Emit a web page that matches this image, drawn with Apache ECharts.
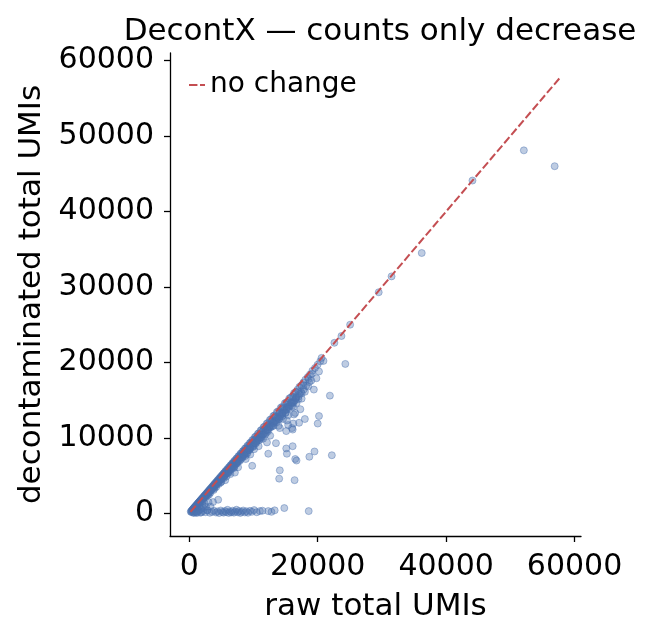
<!DOCTYPE html>
<html>
<head>
<meta charset="utf-8">
<script src="https://cdn.jsdelivr.net/npm/echarts@6/dist/echarts.min.js"></script>
<style>
  html, body { margin: 0; padding: 0; background: #fff; }
  #chart { width: 648px; height: 638px; }
</style>
</head>
<body>
<div id="chart"></div>
<script>
// cells lying on / just under the "no change" diagonal  [raw, decontaminated]
const diagonalCells = [
  [230,220],[310,290],[380,360],[450,400],[520,505],[570,530],[640,610],[700,690],[760,700],[830,810],
  [880,860],[950,900],[1010,990],[1070,1010],[1130,1100],[1190,1150],[1240,1210],[1310,1230],[1370,1350],
  [1420,1390],[1490,1400],[1550,1520],[1610,1570],[1660,1590],[1730,1700],[1790,1770],[1850,1740],
  [1920,1890],[1980,1930],[2040,1960],[2110,2080],[2170,2120],[2230,2110],[2300,2260],[2360,2330],
  [2420,2300],[2490,2450],[2550,2510],[2610,2470],[2690,2650],[2750,2700],[2820,2660],[2880,2840],
  [2950,2900],[3020,2870],[3090,3050],[3150,3110],[3220,3050],[3290,3250],[3360,3300],[3430,3260],
  [3500,3460],[3570,3510],[3640,3460],[3710,3670],[3790,3740],[3860,3680],[3930,3890],[4010,3950],
  [4090,3880],[4160,4120],[4240,4180],[4320,4100],[4400,4350],[4470,4410],[4550,4330],[4630,4580],
  [4710,4650],[4790,4560],[4870,4820],[4950,4890],[5030,4790],[5110,5060],[5200,5130],[5280,5030],
  [5360,5300],[5450,5380],[5530,5270],[5620,5560],[5700,5630],[5790,5520],[5880,5820],[5970,5890],
  [6060,5780],[6150,6090],[6250,6160],[6340,6050],[6430,6370],[6530,6440],[6620,6320],[6720,6650],
  [6820,6720],[6910,6600],[7010,6940],[7120,7010],[7220,6900],[7320,7240],[7430,7310],[7530,7200],
  [7640,7560],[7750,7620],[7860,7510],[7970,7890],[8080,7950],[8200,7840],[8310,8220],[8430,8290],
  [8550,8170],[8670,8580],[8790,8640],[8910,8510],[9040,8940],[9160,9000],[9290,8870],[9420,9310],
  [9550,9380],[9680,9240],[9810,9700],[9950,9770],[10080,9620],[10220,10110],[10360,10170],[10500,10010],
  [10650,10520],[10800,10600],[10950,10440],[11100,10970],[11250,11040],[11400,10870],[11560,11420],
  [11720,11490],[11880,11300],[12040,11880],[12210,11970],[12380,11760],[12550,12380],[12720,12460],
  [12900,12230],[13080,12890],[13260,12980],[13450,12740],[13640,13420],[13830,13510],[14030,13260],
  [14230,13980],[14440,14100],[14650,13820],[14870,14580],[15090,14700],[15320,14400],[15560,15220],
  [15800,15350],[16050,15480],[16310,15930],[16580,16090],[16860,16380],[17150,16760],[17450,16950],
  [17760,17330],[18090,17720],[18440,18050],[18800,18400],[19180,18900],[19570,19250],[19980,19700],
  [20400,20150]
];

// more of the band, filling it in
const bandFillCells = [
  [600,570],[900,840],[1150,1060],[1400,1330],[1650,1540],[1880,1790],[2140,1990],[2380,2260],
  [2640,2430],[2870,2730],[3130,2890],[3380,3210],[3620,3350],[3880,3680],[4130,3820],[4370,4150],
  [4620,4280],[4880,4630],[5140,4760],[5390,5120],[5650,5230],[5910,5610],[6170,5720],[6440,6120],
  [6700,6200],[6960,6610],[7230,6700],[7500,7120],[7770,7190],[8040,7640],[8320,7700],[8600,8170],
  [8880,8220],[9160,8700],[9450,8740],[9740,9250],[10030,9280],[10330,9810],[10630,9830],[10930,10380],
  [11230,10390],[11540,10960],[11850,10960],[12160,11550],[12480,11540],[12800,12160],[13120,12130],
  [13450,12780],[13780,12740],[14120,13410],[14460,13370],[14800,14060],[15150,14020],[15510,14730],
  [15870,14700],[16240,15430],[16620,15400],[17000,16150],[17400,16100],[17800,17000],[18200,16900],
  [18600,17800],[19000,17600]
];

// the thick part of the band, a few percent under the diagonal
const denseBandCells = [
  [2050,1880],[2330,2120],[2680,2450],[2970,2700],[3250,2980],[3480,3150],[3740,3420],[3990,3600],
  [4280,3920],[4520,4080],[4760,4380],[5050,4580],[5320,4880],[5580,5090],[5840,5350],[6090,5520],
  [6380,5860],[6640,6020],[6890,6330],[7180,6520],[7460,6850],[7710,7010],[7980,7330],[8260,7520],
  [8530,7840],[8800,8010],[9080,8350],[9370,8520],[9640,8860],[9920,9030],[10210,9390],[10480,9540],
  [10770,9900],[11060,10060],[11340,10430],[11630,10580],[11920,10960],[12200,11100],[12490,11490],
  [12780,11620],[13070,12020],[13350,12160],[13640,12550],[13930,12680],[14220,13080],[14510,13210],
  [14800,13620],[15100,13740],[15400,14170],[15700,14300],[16000,14720],[16300,14850],[16650,15300],
  [17000,15480],[8800,7200],[10100,8500],[11500,9900],[12600,10300],[13900,11600],[15200,12300],
  [9500,7800],[10800,8900],[7600,6100],[6400,5200],[5600,4400],[4900,4100],[3900,3300],[2900,2400]
];

// lower edge of the band, roughly 88-94 % retained
const bandEdgeCells = [
  [1500,1380],[2000,1800],[2500,2270],[3000,2680],[3500,3190],[4000,3560],[4500,4110],[5000,4480],
  [5500,5010],[6000,5330],[6500,5900],[7000,6230],[7500,6810],[8000,7110],[8500,7720],[9000,8020],
  [9500,8620],[10000,8900],[10500,9540],[11000,9790],[11500,10450],[12000,10680],[12500,11360],
  [13000,11570],[13500,12260],[14000,12460],[14500,13180],[15000,13350],[15500,14090],[16000,14240],
  [16500,15000],[17000,15130],[17500,15900],[18000,16100],[18500,16800],[6200,5650],[7300,6600],
  [8200,7450],[9300,8400],[10300,9300],[11200,10100],[12200,11050],[13200,11950],[14200,12850],
  [15200,13750],[16200,14650],[5300,4800],[4300,3900],[3300,3000],[2300,2080]
];

// cells a little further below the diagonal
const belowDiagonalCells = [
  [1300,1000],[1700,1350],[2100,1600],[2600,2150],[3100,2500],[3300,2750],[3800,3100],[4200,3500],
  [4600,3900],[5000,4200],[5400,4700],[5800,4900],[6200,5400],[6500,5800],[7000,6100],[7400,6600],
  [7800,6900],[8300,7400],[8700,7600],[9000,7900],[9400,8400],[9900,8800],[10400,9300],[10900,9700],
  [11300,10100],[11800,10400],[12300,10900],[12700,11400],[13100,11600],[13600,12100],[14000,12500],
  [14500,12900],[15000,13300],[15500,13900],[16000,14600],[16600,15200],[17200,15800]
];

// small cells near the origin
const originCells = [
  [400,150],[600,300],[800,250],[1000,500],[1100,200],[1300,650],[1500,400],[1600,900],[1800,550],
  [2000,1100],[2200,700],[2400,1300],[2600,900],[2800,400],[3000,1500],[3300,900],[700,100],[1200,50],
  [1900,150],[4500,1800],[3700,1500]
];

// cells almost fully removed (flat band near zero)
const lowBandCells = [
  [700,60],[1050,120],[1400,260],[1750,90],[2150,310],[2500,150],[2850,420],[3200,80],[3550,200],
  [3850,350],[4150,110],[4400,260],[4650,40],[4900,380],[5150,190],[5350,90],[5550,300],[5750,160],
  [5950,470],[6150,60],[6350,250],[6550,130],[6750,350],[6950,90],[7150,230],[7350,480],[7550,140],
  [7750,310],[7950,60],[8150,210],[8400,380],[8650,120],[8900,270],[9150,80],[9450,330],[9750,200],
  [10100,430],[10500,150],[11000,300],[11400,350],[12300,300],[12800,200],[13300,400],[14800,700],
  [18600,300]
];

// scattered cells
const outlierCells = [
  [52100,48100],[56900,46000],[44100,44100],[36200,34500],[31500,31400],[29500,29300],[25050,25000],
  [23700,23500],[22600,22600],[24300,19800],[20600,20600],[20900,20200],[20200,18800],[19100,18500],
  [19800,17900],[21900,15600],[19400,16400],[20200,12900],[20000,11900],[18000,12500],[17100,12000],
  [19500,8200],[22200,7700],[18700,7500],[16500,7200],[16700,7000],[16100,8900],[15100,8600],
  [15200,7900],[12300,7900],[12100,9400],[13500,9300],[14100,5700],[14000,4600],[16400,4400],
  [9800,6300],[7100,5400],[6900,6000],[18700,17400],[17800,16400],[17500,15200],[16700,14600],
  [17300,13800],[16200,14100],[16500,13300],[16200,11900],[15400,11700],[16100,11100],[15100,10900],
  [14100,11300],[16000,11300],[16300,13100],[15400,13000],[14600,12500]
];

const noChangeLine = [[200,200],[57800,57800]];

const xTicks = [0, 20000, 40000, 60000];
const yTicks = [0, 10000, 20000, 30000, 40000, 50000, 60000];

const allCells = diagonalCells.concat(bandFillCells, denseBandCells, bandEdgeCells,
  belowDiagonalCells, originCells, lowBandCells, outlierCells);

const chart = echarts.init(document.getElementById('chart'));
const font = 'DejaVu Sans';
const ink = '#000';

const axisCommon = {
  type: 'value',
  min: -3000,
  max: 61000,
  nameLocation: 'middle',
  nameTextStyle: { fontFamily: font, fontSize: 31, color: ink },
  axisLine: { show: true, onZero: false, lineStyle: { color: ink, width: 1.3 } },
  splitLine: { show: false }
};

chart.setOption({
  animation: false,
  backgroundColor: '#fff',
  title: {
    text: 'DecontX — counts only decrease',
    left: 375,
    top: 11,
    textAlign: 'center',
    textStyle: { fontFamily: font, fontSize: 31, fontWeight: 'normal', color: ink }
  },
  legend: {
    left: 183,
    top: 66,
    itemWidth: 16,
    itemHeight: 2,
    itemGap: 6,
    data: ['no change'],
    textStyle: { fontFamily: font, fontSize: 28, color: ink }
  },
  grid: { left: 170, top: 53, width: 411, height: 483 },
  xAxis: Object.assign({}, axisCommon, {
    name: 'raw total UMIs',
    nameGap: 55,
    axisTick: { show: true, length: 6, customValues: xTicks, lineStyle: { color: ink, width: 1.3 } },
    axisLabel: { customValues: xTicks, margin: 16, fontFamily: font, fontSize: 30, color: ink,
      formatter: v => String(v) }
  }),
  yAxis: Object.assign({}, axisCommon, {
    name: 'decontaminated total UMIs',
    nameGap: 118,
    axisTick: { show: true, length: 6, customValues: yTicks, lineStyle: { color: ink, width: 1.3 } },
    axisLabel: { customValues: yTicks, margin: 16, fontFamily: font, fontSize: 30, color: ink,
      formatter: v => String(v) }
  }),
  series: [
    {
      name: 'cells',
      type: 'scatter',
      data: allCells,
      symbolSize: 7,
      silent: true,
      itemStyle: {
        color: 'rgba(76,114,176,0.45)',
        borderColor: 'rgba(76,114,176,0.55)',
        borderWidth: 1
      },
      z: 2
    },
    {
      name: 'no change',
      type: 'line',
      data: noChangeLine,
      symbol: 'none',
      silent: true,
      lineStyle: { color: '#c44e52', width: 2, type: [8, 3] },
      itemStyle: { color: '#c44e52' },
      z: 3
    }
  ]
});
</script>
</body>
</html>
